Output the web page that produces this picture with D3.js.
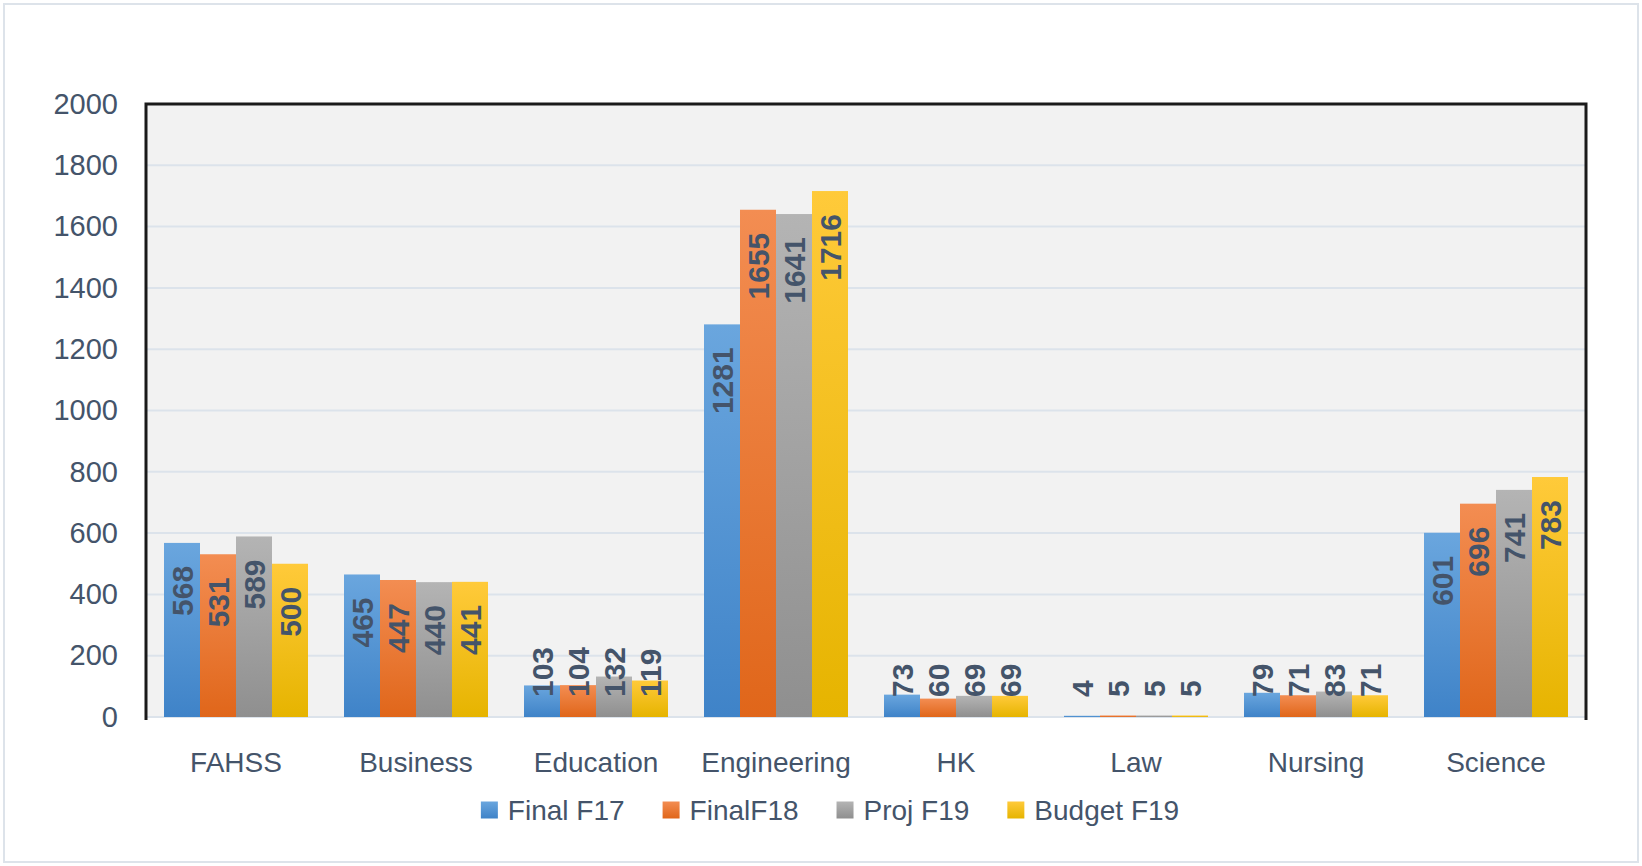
<!DOCTYPE html>
<html>
<head>
<meta charset="utf-8">
<script src="https://cdn.jsdelivr.net/npm/d3@7"></script>
<style>
html,body{margin:0;padding:0;background:#fff;}
svg{display:block;}
text{font-family:"Liberation Sans",Arial,sans-serif;}
</style>
</head>
<body>
<svg id="chart" width="1642" height="866"></svg>
<script>
const categories = ["FAHSS","Business","Education","Engineering","HK","Law","Nursing","Science"];
const seriesNames = ["Final F17","FinalF18","Proj F19","Budget F19"];
const finalF17  = [568,465,103,1281,73,4,79,601];
const finalF18  = [531,447,104,1655,60,5,71,696];
const projF19   = [589,440,132,1641,69,5,83,741];
const budgetF19 = [500,441,119,1716,69,5,71,783];
const seriesValues = [finalF17, finalF18, projF19, budgetF19];
const yTicks = [0,200,400,600,800,1000,1200,1400,1600,1800,2000];

const colorsTop = ["#6aa6de","#f38d52","#b4b4b4","#ffca3a"];
const colorsBot = ["#3f83c8","#e0661a","#8f8f8f","#e6b400"];

const svg = d3.select("#chart");
const W = 1642, H = 866;
const plot = {left:146, right:1586, top:104, bottom:717};
const textColor = "#44546a";

// outer border
svg.append("rect").attr("x",4).attr("y",4).attr("width",W-8).attr("height",H-8)
  .attr("fill","#fff").attr("stroke","#dde3ea").attr("stroke-width",2);

const defs = svg.append("defs");
seriesNames.forEach((s,i)=>{
  const g = defs.append("linearGradient").attr("id","grad"+i)
    .attr("x1",0).attr("y1",0).attr("x2",0).attr("y2",1);
  g.append("stop").attr("offset","0%").attr("stop-color",colorsTop[i]);
  g.append("stop").attr("offset","100%").attr("stop-color",colorsBot[i]);
});

const x = d3.scaleBand().domain(categories).range([plot.left, plot.right])
  .paddingInner(0.2).paddingOuter(0.1);
const xs = d3.scaleBand().domain(seriesNames).range([0, x.bandwidth()]).padding(0);
const y = d3.scaleLinear().domain([0,2000]).range([plot.bottom, plot.top]);

// plot background
svg.append("rect").attr("x",plot.left).attr("y",plot.top)
  .attr("width",plot.right-plot.left).attr("height",plot.bottom-plot.top)
  .attr("fill","#f2f2f2");

// gridlines
svg.append("g").selectAll("line").data(yTicks).join("line")
  .attr("x1",plot.left).attr("x2",plot.right)
  .attr("y1",d=>y(d)).attr("y2",d=>y(d))
  .attr("stroke","#dce3eb").attr("stroke-width",2);

// bars
const barData = [];
categories.forEach((c,ci)=>{
  seriesNames.forEach((s,si)=>{
    barData.push({c, s, si, v: seriesValues[si][ci]});
  });
});
svg.append("g").selectAll("rect").data(barData).join("rect")
  .attr("x",d=>x(d.c)+xs(d.s))
  .attr("width",xs.bandwidth())
  .attr("y",d=>y(d.v))
  .attr("height",d=>y(0)-y(d.v))
  .attr("fill",d=>"url(#grad"+d.si+")");

// frame (top, left, right)
svg.append("path")
  .attr("d",`M${plot.left},${plot.bottom+3}V${plot.top}H${plot.right}V${plot.bottom+3}`)
  .attr("fill","none").attr("stroke","#1a1a1a").attr("stroke-width",3);

// y axis labels
const yAxis = d3.axisLeft(y).tickValues(yTicks).tickFormat(d3.format("d")).tickSize(0).tickPadding(28);
const ya = svg.append("g").attr("transform",`translate(${plot.left},0)`).call(yAxis);
ya.select(".domain").remove();
ya.selectAll("text").attr("font-size",29).attr("fill",textColor)
  .attr("font-family","'Liberation Sans',Arial,sans-serif");

// x axis labels
const xAxis = d3.axisBottom(x).tickSize(0).tickPadding(35);
const xa = svg.append("g").attr("transform",`translate(0,${plot.bottom})`).call(xAxis);
xa.select(".domain").remove();
xa.selectAll("text").attr("font-size",28).attr("fill",textColor)
  .attr("font-family","'Liberation Sans',Arial,sans-serif");

// data labels
const lbl = svg.append("g").selectAll("text").data(barData).join("text")
  .attr("font-size",30).attr("font-weight","bold").attr("fill",textColor)
  .attr("text-anchor","end").attr("dy","0.36em")
  .text(d=>d.v);
lbl.each(function(d){
  const len = this.getComputedTextLength();
  const cx = x(d.c)+xs(d.s)+xs.bandwidth()/2;
  let top = y(d.v)+23;
  if (top+len > plot.bottom-20) top = plot.bottom-20-len;
  d3.select(this).attr("transform",`translate(${cx},${top}) rotate(-90)`);
});

// legend
const legend = svg.append("g");
const items = legend.selectAll("g").data(seriesNames).join("g");
items.append("rect").attr("width",17).attr("height",17).attr("y",-17/2)
  .attr("fill",(d,i)=>"url(#grad"+i+")");
items.append("text").attr("x",27).attr("dy","0.36em").attr("font-size",28)
  .attr("fill",textColor).text(d=>d);
let cur = 0;
const positions = [];
items.each(function(d){
  const w = 27 + d3.select(this).select("text").node().getComputedTextLength();
  positions.push(cur);
  cur += w + 38;
});
const totalW = cur - 38;
const startX = 830 - totalW/2;
items.attr("transform",(d,i)=>`translate(${startX+positions[i]},810)`);
</script>
</body>
</html>
